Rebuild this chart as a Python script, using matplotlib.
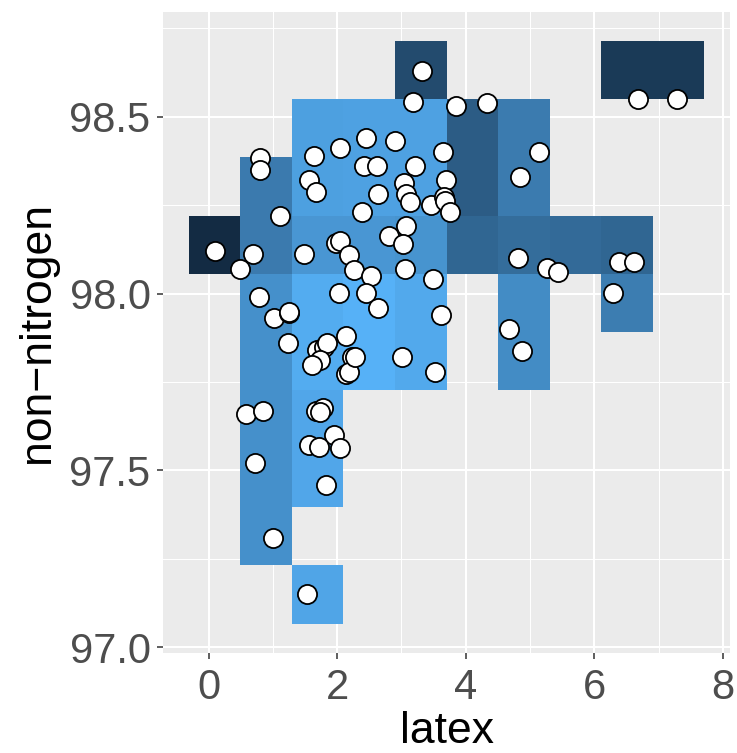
import numpy as np
import matplotlib
matplotlib.use("Agg")
import matplotlib.pyplot as plt
from matplotlib.colors import LinearSegmentedColormap

# tile grid (bin edges)
x_edges = [-0.308, 0.494, 1.296, 2.098, 2.900, 3.702, 4.504, 5.306, 6.108, 6.910, 7.712]
y_edges = [97.067, 97.232, 97.396, 97.561, 97.726, 97.890, 98.055, 98.220, 98.385, 98.549, 98.714]

# fill level of each tile (0 = darkest, 1 = lightest), rows from bottom to top, None = no tile
fill_level = [
    [None, None, 0.91, None, None, None, None, None, None, None],
    [None, 0.75, None, None, None, None, None, None, None, None],
    [None, 0.75, 0.92, None, None, None, None, None, None, None],
    [None, 0.75, 0.92, None, None, None, None, None, None, None],
    [None, 0.75, 0.96, 1.00, 0.94, None, 0.72, None, None, None],
    [None, 0.75, 0.96, 1.00, 0.94, None, 0.72, None, 0.61, None],
    [0.00, 0.59, 0.80, 0.80, 0.78, 0.44, 0.49, 0.47, 0.44, None],
    [None, 0.59, 0.87, 0.88, 0.88, 0.37, 0.60, None, None, None],
    [None, None, 0.87, 0.88, 0.88, 0.37, 0.60, None, None, None],
    [None, None, None, None, 0.24, None, None, None, 0.11, 0.11],
]

latex = [0.805, 0.805, 1.106, 1.636, 2.051, 1.569, 1.678,
         3.313, 3.184, 3.843, 4.326, 2.441, 2.897, 3.645, 5.140,
         2.414, 2.623, 3.209, 4.850, 3.037, 3.698, 3.064, 3.131, 2.638, 2.379, 3.453, 3.660, 3.680, 3.754, 3.070, 2.800,
         0.093, 0.692, 0.483, 1.480, 1.974, 2.040, 2.180, 2.260, 0.785, 2.036, 1.012, 1.257, 1.246, 1.236, 2.130,
         1.688, 1.790, 1.844, 1.740, 1.610, 2.230, 2.130, 2.180, 0.583, 0.841, 1.673, 1.776, 1.729, 1.947, 1.569, 1.724, 2.051,
         0.717, 1.833, 0.997, 1.537,
         3.028, 2.519, 3.053, 3.484, 2.456, 2.638, 3.609, 2.285, 3.012, 3.515, 4.820, 4.673, 4.880,
         5.260, 5.436, 6.377, 6.620, 6.293, 6.673, 7.290]
non_nitrogen = [98.382, 98.349, 98.220, 98.390, 98.411, 98.321, 98.288,
                98.630, 98.541, 98.530, 98.540, 98.441, 98.430, 98.399, 98.399,
                98.361, 98.360, 98.360, 98.330, 98.312, 98.321, 98.281, 98.260, 98.281, 98.231, 98.250, 98.272, 98.262, 98.231, 98.191, 98.164,
                98.120, 98.111, 98.069, 98.111, 98.142, 98.149, 98.109, 98.068, 97.989, 98.001, 97.930, 97.944, 97.949, 97.859, 97.880,
                97.840, 97.850, 97.859, 97.812, 97.798, 97.821, 97.773, 97.779, 97.659, 97.669, 97.669, 97.676, 97.666, 97.600, 97.572, 97.565, 97.563,
                97.520, 97.460, 97.309, 97.150,
                98.139, 98.050, 98.069, 98.040, 98.001, 97.959, 97.939, 97.820, 97.820, 97.779, 98.100, 97.900, 97.838,
                98.071, 98.060, 98.090, 98.090, 98.001, 98.550, 98.550]

plt.rcParams['font.family'] = ['Liberation Sans', 'DejaVu Sans']

fig = plt.figure(figsize=(7.37, 7.53), dpi=100)
ax = fig.add_axes([163 / 737, (753 - 652.6) / 753, (730.2 - 163) / 737, (652.6 - 12) / 753])
ax.set_facecolor('#EBEBEB')

cmap = LinearSegmentedColormap.from_list('gg', ['#132B43', '#56B1F7'])
grid = np.array([[np.nan if v is None else v for v in row] for row in fill_level])
ax.pcolormesh(x_edges, y_edges, np.ma.masked_invalid(grid), cmap=cmap, vmin=0, vmax=1,
              zorder=2, linewidth=0, antialiased=False)

ax.scatter(latex, non_nitrogen, s=190, facecolor='white', edgecolor='black', linewidths=1.3, zorder=3)

ax.set_xlim(-0.709, 8.113)
ax.set_ylim(96.985, 98.796)
ax.set_xticks([0, 2, 4, 6, 8])
ax.set_yticks([97.0, 97.5, 98.0, 98.5])
ax.set_yticklabels(['97.0', '97.5', '98.0', '98.5'])
ax.set_xticks([1, 3, 5, 7], minor=True)
ax.set_yticks([97.25, 97.75, 98.25, 98.75], minor=True)
ax.grid(which='major', color='white', linewidth=1.5, zorder=1)
ax.grid(which='minor', color='white', linewidth=0.75, zorder=1)
ax.set_axisbelow(True)
for s in ax.spines.values():
    s.set_visible(False)
ax.tick_params(which='major', length=4, width=1.1, color='#333333', labelsize=30,
               labelcolor='#4D4D4D')
ax.tick_params(axis='x', which='major', pad=7)
ax.tick_params(axis='y', which='major', pad=5)
ax.tick_params(which='minor', length=0)

ax.set_xlabel('latex', fontsize=32, color='black', labelpad=2)
ax.set_ylabel('non\u2212nitrogen', fontsize=32, color='black', labelpad=8)

fig.savefig('out.png', dpi=100)
